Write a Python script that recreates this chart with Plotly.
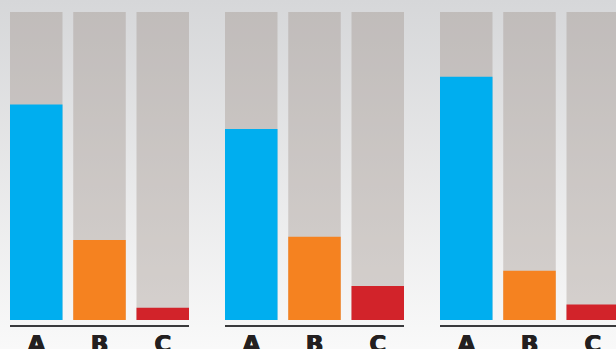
import base64
import plotly.graph_objects as go

# Three panels of shares (percent), each split over categories A, B, C
categories = ["A", "B", "C"]
panel1 = [70, 26, 4]
panel2 = [62, 27, 11]
panel3 = [79, 16, 5]
full_scale = [100, 100, 100]

bar_colors = ["#00aeef", "#f58220", "#d2232a"]
track_color = "rgba(150,136,126,0.34)"

# soft vertical gradient for the page background
svg = (
    '<svg xmlns="http://www.w3.org/2000/svg" width="616" height="349" '
    'preserveAspectRatio="none"><defs><linearGradient id="g" x1="0" y1="0" '
    'x2="0" y2="1"><stop offset="0" stop-color="#d6d7d9"/>'
    '<stop offset="1" stop-color="#f9f9f9"/></linearGradient></defs>'
    '<rect width="616" height="349" fill="url(#g)"/></svg>'
)
bg_uri = "data:image/svg+xml;base64," + base64.b64encode(svg.encode()).decode()

fig = go.Figure()
panels = [panel1, panel2, panel3]
axes = ["x", "x2", "x3"]
for vals, ax in zip(panels, axes):
    fig.add_trace(go.Bar(x=categories, y=full_scale, xaxis=ax, yaxis="y",
                         marker=dict(color=track_color, line=dict(width=0)),
                         hoverinfo="skip", showlegend=False))
    fig.add_trace(go.Bar(x=categories, y=vals, xaxis=ax, yaxis="y",
                         marker=dict(color=bar_colors, line=dict(width=0)),
                         hoverinfo="skip", showlegend=False))

W, H = 616, 349
step = 63.25
lo = -0.415
# extra-heavy look for the category letters
tickfont = dict(family="DejaVu Sans", size=23, color="#231f20", weight=900,
                shadow="0.8px 0 0 #231f20, -0.4px 0 0 #231f20")
common_x = dict(showgrid=False, zeroline=False, showline=True, linecolor="#3a3a3c",
                linewidth=2, ticks="", tickfont=tickfont, fixedrange=True,
                anchor="y", automargin=False, ticklabelstandoff=-3)

fig.update_layout(
    width=W, height=H,
    margin=dict(l=0, r=0, t=0, b=0, autoexpand=False),
    paper_bgcolor="#f4f4f4",
    plot_bgcolor="rgba(0,0,0,0)",
    barmode="overlay",
    bargap=0.17,
    images=[dict(source=bg_uri, xref="paper", yref="paper", x=0, y=1,
                 sizex=1, sizey=1, sizing="stretch", layer="below",
                 xanchor="left", yanchor="top")],
    xaxis=dict(domain=[10 / W, 189 / W], range=[lo, -lo + 2], **common_x),
    xaxis2=dict(domain=[225 / W, 404 / W], range=[lo, -lo + 2], **common_x),
    xaxis3=dict(domain=[440 / W, 1], range=[lo, lo + (W - 440) / step], **common_x),
    yaxis=dict(domain=[(H - 325) / H, (H - 12) / H], range=[-5 / 3.08, 100],
               visible=False, fixedrange=True, automargin=False),
)

fig.write_html("out.html", config={"displayModeBar": False})
